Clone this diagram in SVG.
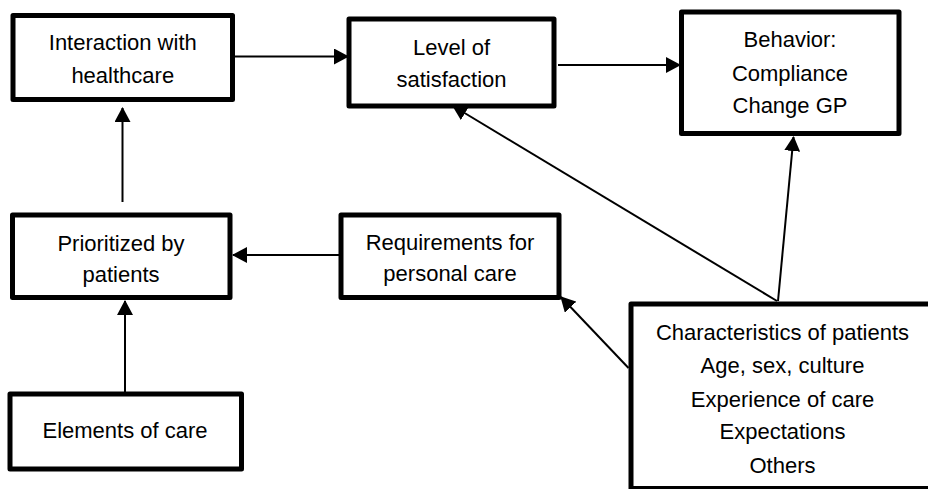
<svg xmlns="http://www.w3.org/2000/svg" width="928" height="489" viewBox="0 0 928 489">
  <style>
    .box { fill: #ffffff; stroke: #000000; stroke-width: 5; stroke-linejoin: round; }
    .lbl { font-family: "Liberation Sans", Arial, sans-serif; font-size: 22px; fill: #000000; text-anchor: middle; }
    .edge { stroke: #000000; stroke-width: 2; fill: none; marker-end: url(#arrow); }
  </style>
  <defs>
    <marker id="arrow" markerUnits="userSpaceOnUse" viewBox="0 0 15 16" refX="14" refY="8" markerWidth="15" markerHeight="16" orient="auto">
      <path d="M0,0 L15,8 L0,16 Z" fill="#000000"/>
    </marker>
  </defs>
  <rect width="928" height="489" fill="#ffffff"/>

  <!-- connectors (drawn first so box borders sit on top) -->
  <g id="connectors">
    <line class="edge" x1="235" y1="56.5" x2="348" y2="56.5"/>
    <line class="edge" x1="558" y1="65" x2="680" y2="65"/>
    <line class="edge" x1="122.5" y1="202" x2="122.5" y2="108"/>
    <line class="edge" x1="125" y1="392" x2="125" y2="301"/>
    <line class="edge" x1="339" y1="255" x2="233" y2="255"/>
    <line class="edge" x1="628.5" y1="368" x2="561" y2="297"/>
    <line class="edge" x1="777" y1="301" x2="453" y2="106"/>
    <line class="edge" x1="778" y1="301" x2="793.5" y2="137"/>
  </g>

  <g id="interaction">
    <rect class="box" x="13" y="15.5" width="219.5" height="84"/>
    <text class="lbl" x="122.75" y="50">Interaction with</text>
    <text class="lbl" x="122.75" y="83">healthcare</text>
  </g>

  <g id="satisfaction">
    <rect class="box" x="349" y="19" width="205" height="87"/>
    <text class="lbl" x="451.5" y="55">Level of</text>
    <text class="lbl" x="451.5" y="87">satisfaction</text>
  </g>

  <g id="behavior">
    <rect class="box" x="681.5" y="12" width="217.5" height="121.5"/>
    <text class="lbl" x="790" y="47">Behavior:</text>
    <text class="lbl" x="790" y="81">Compliance</text>
    <text class="lbl" x="790" y="113">Change GP</text>
  </g>

  <g id="prioritized">
    <rect class="box" x="12.5" y="215" width="217.5" height="82.5"/>
    <text class="lbl" x="121" y="251">Prioritized by</text>
    <text class="lbl" x="121" y="281.5">patients</text>
  </g>

  <g id="requirements">
    <rect class="box" x="341" y="215" width="218" height="82.5"/>
    <text class="lbl" x="450" y="250">Requirements for</text>
    <text class="lbl" x="450" y="281">personal care</text>
  </g>

  <g id="elements">
    <rect class="box" x="10" y="394" width="231.5" height="75"/>
    <text class="lbl" x="125" y="437.5">Elements of care</text>
  </g>

  <g id="characteristics">
    <rect class="box" x="631" y="304" width="310" height="184.5"/>
    <text class="lbl" x="782.5" y="340">Characteristics of patients</text>
    <text class="lbl" x="782.5" y="373">Age, sex, culture</text>
    <text class="lbl" x="782.5" y="406.5">Experience of care</text>
    <text class="lbl" x="782.5" y="438.5">Expectations</text>
    <text class="lbl" x="782.5" y="473">Others</text>
  </g>
</svg>
